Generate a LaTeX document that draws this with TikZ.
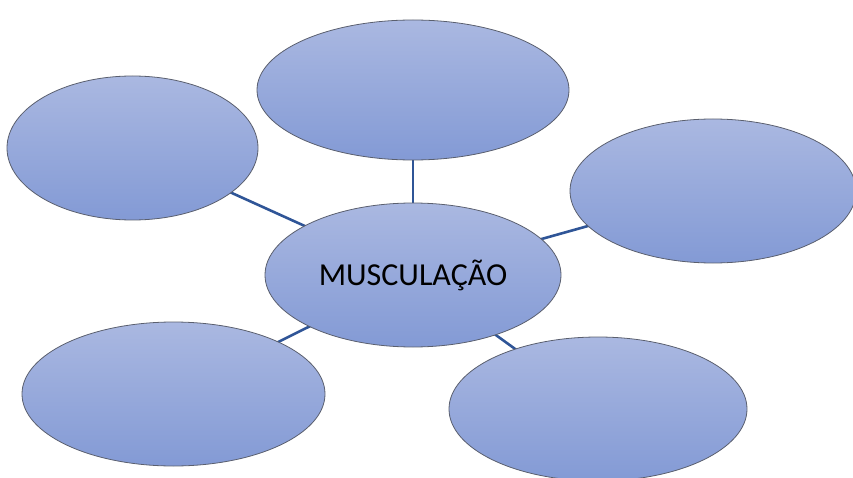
\documentclass[tikz,border=0pt]{standalone}
\usepackage{fontspec}
\setmainfont{Carlito}
\usetikzlibrary{shapes.geometric,backgrounds}
\definecolor{topc}{HTML}{AAB8E1}
\definecolor{botc}{HTML}{839AD5}
\definecolor{linec}{HTML}{2F5597}
\definecolor{edgec}{HTML}{5A5F6E}
\tikzset{
  bubble/.style={ellipse, draw=edgec, line width=0.8pt, top color=topc, bottom color=botc, inner sep=0pt},
  link/.style={draw=linec, line width=2.6pt}
}
\begin{document}
\begin{tikzpicture}[x=1pt,y=-1pt]
\useasboundingbox (0,0) rectangle (853,478);
\clip (0,0) rectangle (853,478);
\node[bubble, minimum width=296pt, minimum height=144pt] (c) at (413,275) {\fontsize{32}{36}\selectfont MUSCULAÇÃO};
\node[bubble, minimum width=312pt, minimum height=140pt] (t) at (413,90) {};
\node[bubble, minimum width=251pt, minimum height=144pt] (tl) at (132.5,148) {};
\node[bubble, minimum width=286pt, minimum height=144pt] (r) at (713,191) {};
\node[bubble, minimum width=303pt, minimum height=144pt] (bl) at (173.5,394) {};
\node[bubble, minimum width=298pt, minimum height=144pt] (br) at (598,409) {};
\begin{scope}[on background layer]
\draw[link] (c.center) -- (t.center);
\draw[link] (c.center) -- (tl.center);
\draw[link] (c.center) -- (r.center);
\draw[link] (c.center) -- (bl.center);
\draw[link] (c.center) -- (br.center);
\end{scope}
\end{tikzpicture}
\end{document}
